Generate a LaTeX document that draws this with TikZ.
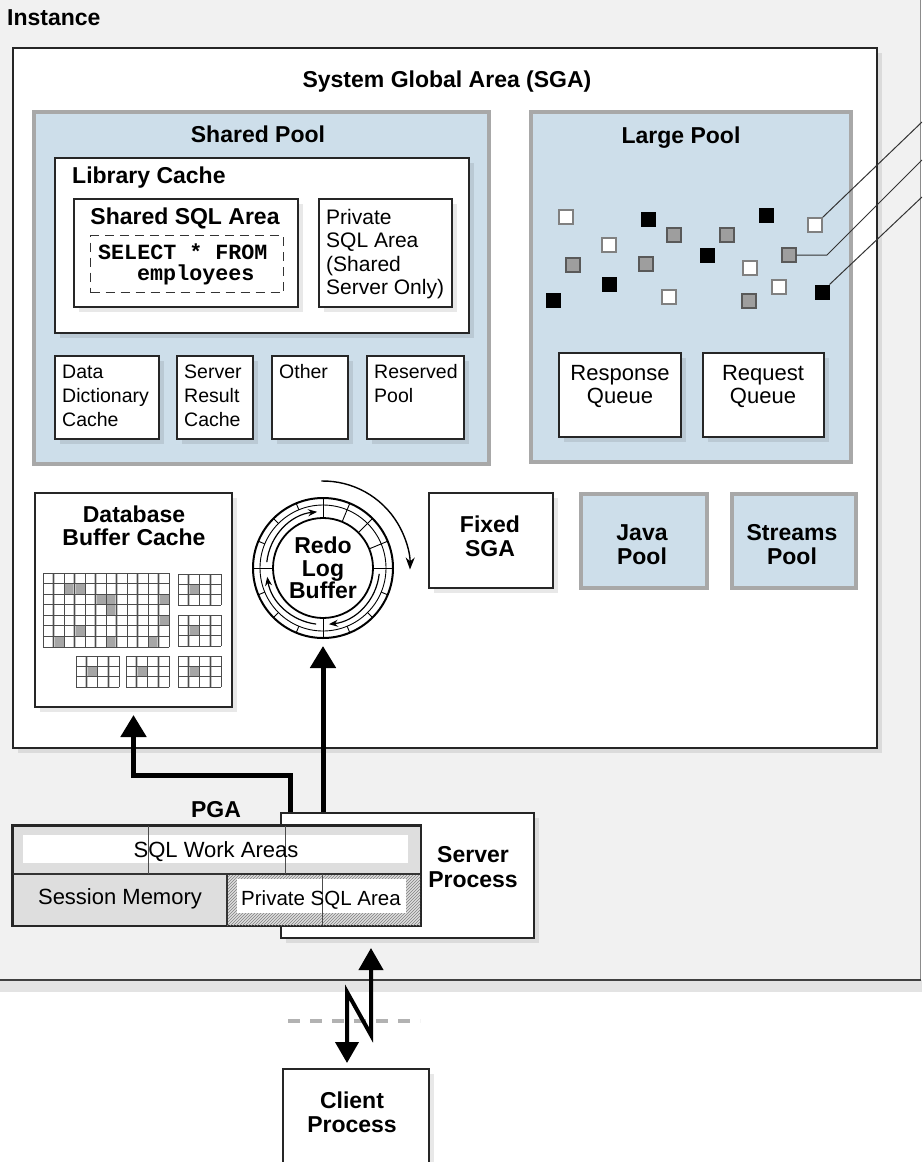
\documentclass[tikz,border=0pt]{standalone}
\usepackage{fontspec}
\setmainfont{Liberation Sans}
\newfontfamily\codefont{Liberation Mono}
\usetikzlibrary{arrows.meta,shadows,patterns,calc}
\definecolor{instbg}{RGB}{241,241,241}
\definecolor{poolblue}{RGB}{205,222,234}
\definecolor{poolline}{RGB}{168,168,168}
\definecolor{pgagray}{RGB}{222,222,222}
\newcommand\BoldT{\fontsize{23}{24}\selectfont\bfseries}
\newcommand\RegT{\fontsize{22}{24}\selectfont}
\newcommand\SmallT{\fontsize{19.5}{23.5}\selectfont}
\newcommand\MidT{\fontsize{21}{23.5}\selectfont}
\newcommand\PrivT{\fontsize{20.5}{23.5}\selectfont}
\newcommand\CodeT{\fontsize{21.7}{21}\selectfont\codefont\bfseries}
\newcommand\cachegrid[6]{%
  \begin{scope}[shift={(#1,-#2)}]
    \foreach \i in {1,3,...,#3} \draw[black!22, line width=3pt] (\i*#5,0) -- (\i*#5,-#4*#6);
    \foreach \i in {0,...,#3} \draw[black!70, line width=0.8pt] (\i*#5,0) -- (\i*#5,-#4*#6);
    \foreach \j in {0,...,#4} \draw[black!70, line width=0.8pt] (0,-\j*#6) -- (#3*#5,-\j*#6);
  \end{scope}}
\newcommand\graycell[6]{% x0 y0 col row cw ch
  \fill[black!35] (#1+#3*#5,-#2-#4*#6) rectangle (#1+#3*#5+#5,-#2-#4*#6-#6);}
\tikzset{
  shadowed/.style={drop shadow={shadow xshift=5pt,shadow yshift=-5pt,fill=black,opacity=0.09}},
  wbox/.style={draw=black!85, line width=2pt, fill=white, inner sep=0pt, anchor=north west, shadowed},
  pool/.style={draw=poolline, line width=4pt, fill=poolblue, inner sep=0pt, anchor=north west},
  txt/.style={inner sep=0pt, anchor=base},
  ltxt/.style={inner sep=0pt, anchor=base west},
  bigarrow/.style={line width=5pt, -{Triangle[length=22pt,width=25pt]}},
  wsq/.style={draw=black!50, line width=1.3pt, fill=white, minimum size=14pt, inner sep=0pt},
  bsq/.style={draw=black, line width=1pt, fill=black, minimum size=14pt, inner sep=0pt},
  gsq/.style={draw=black!65, line width=1.3pt, fill=black!38, minimum size=14pt, inner sep=0pt},
  thinlink/.style={draw=black!80, line width=1pt},
  ringarrow/.style={line width=1.2pt, -{Stealth[length=9pt,width=7pt]}},
}
\begin{document}
\begin{tikzpicture}[x=1pt,y=1pt]
\useasboundingbox (0,0) rectangle (922,-1162);
\clip (0,0) rectangle (922,-1162);
\fill[white] (0,0) rectangle (922,-1162);
% Instance
\fill[black!11] (0,-980) rectangle (922,-992);
\fill[instbg] (-5,5) rectangle (920,-980);
\draw[black!45, line width=1pt] (920,5) -- (920,-980);
\draw[black!75, line width=2.4pt] (-5,-980) -- (921,-980);
\node[ltxt, font=\BoldT] (tinst) at (7,-25) {Instance};
% SGA
\node[wbox, minimum width=864pt, minimum height=700pt] (sga) at (12,-47) {};
\node[txt, font=\BoldT] (tsga) at (447,-87) {System Global Area (SGA)};
% Shared pool
\node[pool, minimum width=455pt, minimum height=352pt] (spool) at (32,-110) {};
\node[txt, font=\BoldT] (tspool) at (258,-142) {Shared Pool};
\node[wbox, minimum width=414pt, minimum height=175pt] (lcache) at (54,-157) {};
\node[ltxt, font=\BoldT] (tlc) at (72,-183) {Library Cache};
\node[wbox, minimum width=224pt, minimum height=108pt] (ssql) at (73,-198) {};
\node[txt, font=\BoldT] (tssql) at (185,-224) {Shared SQL Area};
\node[draw=black!80, line width=1.3pt, dash pattern=on 9pt off 6pt, inner sep=0pt, anchor=north west, minimum width=193pt, minimum height=57pt] (sel) at (90,-235) {};
\node[ltxt, font=\CodeT] (tsel1) at (98,-259) {SELECT * FROM};
\node[ltxt, font=\CodeT] (tsel2) at (137,-280) {employees};
\node[wbox, minimum width=133pt, minimum height=108pt] (psql) at (318,-198) {};
\node[ltxt, font=\MidT] (tps1) at (326,-224) {Private};
\node[ltxt, font=\MidT] (tps2) at (326,-247.5) {SQL Area};
\node[ltxt, font=\MidT] (tps3) at (326,-271) {(Shared};
\node[ltxt, font=\MidT] (tps4) at (326,-294.5) {Server Only)};
\node[wbox, minimum width=104pt, minimum height=83pt] (ddc) at (54,-355) {};
\node[ltxt, font=\SmallT] (tdd1) at (62,-378) {Data};
\node[ltxt, font=\SmallT] (tdd2) at (62,-402) {Dictionary};
\node[ltxt, font=\SmallT] (tdd3) at (62,-426) {Cache};
\node[wbox, minimum width=76pt, minimum height=83pt] (src) at (176,-355) {};
\node[ltxt, font=\SmallT] (tsr1) at (184,-378) {Server};
\node[ltxt, font=\SmallT] (tsr2) at (184,-402) {Result};
\node[ltxt, font=\SmallT] (tsr3) at (184,-426) {Cache};
\node[wbox, minimum width=76pt, minimum height=83pt] (oth) at (271,-355) {};
\node[ltxt, font=\SmallT] (tot) at (279,-378) {Other};
\node[wbox, minimum width=97pt, minimum height=83pt] (rsv) at (366,-355) {};
\node[ltxt, font=\SmallT] (trs1) at (374,-378) {Reserved};
\node[ltxt, font=\SmallT] (trs2) at (374,-402) {Pool};
% Large pool
\node[pool, minimum width=320pt, minimum height=350pt] (lpool) at (529,-110) {};
\node[txt, font=\BoldT] (tlp) at (681,-143) {Large Pool};
\node[wsq] (q1) at (566,-217) {};
\node[bsq] (q2) at (648,-219) {};
\node[gsq] (q3) at (674,-235) {};
\node[wsq] (q4) at (609,-245) {};
\node[gsq] (q5) at (573,-265) {};
\node[gsq] (q6) at (646,-264) {};
\node[bsq] (q7) at (609,-284) {};
\node[bsq] (q8) at (553,-300) {};
\node[wsq] (q9) at (669,-297) {};
\node[bsq] (q10) at (707,-255) {};
\node[gsq] (q11) at (727,-235) {};
\node[bsq] (q12) at (766,-215) {};
\node[wsq] (q13) at (815,-225) {};
\node[gsq] (q14) at (789,-255) {};
\node[wsq] (q15) at (750,-268) {};
\node[wsq] (q16) at (779,-287) {};
\node[gsq] (q17) at (749,-301) {};
\node[bsq] (q18) at (822,-292) {};
\node[wbox, minimum width=122pt, minimum height=84pt] (rspq) at (558,-352) {};
\node[txt, font=\RegT] (trq1) at (620,-380) {Response};
\node[txt, font=\RegT] (trq2) at (620,-403) {Queue};
\node[wbox, minimum width=121pt, minimum height=84pt] (reqq) at (702,-352) {};
\node[txt, font=\RegT] (tqq1) at (763,-380) {Request};
\node[txt, font=\RegT] (tqq2) at (763,-403) {Queue};
% links from squares
\coordinate (e1) at (922,-122);
\coordinate (e2m) at (827,-255);
\coordinate (e2) at (922,-160);
\coordinate (e3) at (922,-197);
\draw[thinlink] (q13.north east) -- (e1);
\draw[thinlink] (q14.east) -- (e2m) -- (e2);
\draw[thinlink] (q18.north east) -- (e3);
% Database buffer cache
\node[wbox, minimum width=197pt, minimum height=214pt] (dbc) at (34,-492) {};
\node[txt, font=\BoldT] (tdb1) at (134,-522) {Database};
\node[txt, font=\BoldT] (tdb2) at (134,-545) {Buffer Cache};
\foreach \c/\r in {2/1,3/1,5/2,6/2,6/3,11/2,11/4,3/5,1/6,6/6,10/6} {\graycell{43}{573}{\c}{\r}{10.5}{10.57}}
\cachegrid{43}{573}{12}{7}{10.5}{10.57}
\foreach \gx/\gy in {178/574,178/615,76/656,126/656,178/656} {
  \graycell{\gx}{\gy}{1}{1}{10.75}{10.33}
  \cachegrid{\gx}{\gy}{4}{3}{10.75}{10.33}
}
% Redo log buffer
\node[circle, draw=black, line width=2pt, fill=white, minimum size=140pt, inner sep=0pt] (redo) at (323,-568) {};
\draw[line width=0.9pt] (redo.center) circle[radius=63pt];
\draw[line width=1.8pt] (redo.center) circle[radius=50pt];
\foreach \a in {0,90,180,270} \draw[line width=1pt] ($(redo.center)+(\a:50)$) -- ($(redo.center)+(\a:70)$);
\foreach \a in {22.5,45,67.5,112.5,135,157.5,202.5,225,247.5,292.5,315,337.5} \draw[line width=0.9pt] ($(redo.center)+(\a:63)$) -- ($(redo.center)+(\a:70)$);
\foreach \a in {22.5,45,67.5} \draw[line width=0.9pt] ($(redo.center)+(\a:50)$) -- ($(redo.center)+(\a:63)$);
\draw[ringarrow] ($(redo.center)+(174:56.5)$) arc[start angle=174, end angle=96, radius=56.5pt];
\draw[ringarrow] ($(redo.center)+(263:56.5)$) arc[start angle=263, end angle=189, radius=56.5pt];
\draw[ringarrow] ($(redo.center)+(-6:56.5)$) arc[start angle=-6, end angle=-84, radius=56.5pt];
\draw[line width=1.4pt, -{Stealth[length=12pt,width=9pt]}] ($(redo.center)+(91:87)$) arc[start angle=91, end angle=-1, radius=87pt];
\node[txt, font=\BoldT] (trd1) at (323,-553) {Redo};
\node[txt, font=\BoldT] (trd2) at (323,-576) {Log};
\node[txt, font=\BoldT] (trd3) at (323,-598) {Buffer};
% Fixed SGA, Java, Streams
\node[wbox, minimum width=124pt, minimum height=95pt] (fsga) at (428,-492) {};
\node[txt, font=\BoldT] (tfs1) at (490,-532) {Fixed};
\node[txt, font=\BoldT] (tfs2) at (490,-556) {SGA};
\node[pool, minimum width=126pt, minimum height=94pt] (java) at (579,-492) {};
\node[txt, font=\BoldT] (tjv1) at (642,-540) {Java};
\node[txt, font=\BoldT] (tjv2) at (642,-564) {Pool};
\node[pool, minimum width=124pt, minimum height=94pt] (strm) at (730,-492) {};
\node[txt, font=\BoldT] (tst1) at (792,-540) {Streams};
\node[txt, font=\BoldT] (tst2) at (792,-564) {Pool};
% Server process and PGA
\node[wbox, minimum width=253pt, minimum height=125pt] (sp) at (280,-812) {};
\node[txt, font=\BoldT] (tsp1) at (473,-862) {Server};
\node[txt, font=\BoldT] (tsp2) at (473,-887) {Process};
\node[draw=black!85, line width=1.5pt, fill=pgagray, inner sep=0pt, anchor=north west, minimum width=408pt, minimum height=100pt] (pga) at (12,-825) {};
\fill[white] (23,-835) rectangle (408,-863);
\fill[pattern=north east lines, pattern color=black!50] (227,-874) rectangle (420,-925);
\fill[white] (237,-879) rectangle (406,-913);
\draw[line width=1.2pt, black!80] (12,-874) -- (420,-874);
\draw[line width=1.2pt, black!80] (227,-874) -- (227,-925);
\draw[line width=0.8pt, black!70] (148,-825) -- (148,-874);
\draw[line width=0.8pt, black!70] (285,-825) -- (285,-874);
\draw[line width=0.8pt, black!70] (322,-874) -- (322,-925);
\draw[draw=black!85, line width=1.5pt] (pga.north west) rectangle (pga.south east);
\node[txt, font=\BoldT] (tpga) at (216,-817) {PGA};
\node[txt, font=\RegT] (tswa) at (216,-857) {SQL Work Areas};
\node[txt, font=\RegT] (tsm) at (120,-904) {Session Memory};
\node[txt, font=\PrivT] (tpsa) at (321,-905) {Private SQL Area};
% thick arrows
\draw[bigarrow] ([xshift=10pt]sp.north west) |- ($(dbc.south)+(0,-67)$) -- ($(dbc.south)+(0,-7)$);
\draw[bigarrow] (sp.north west -| redo.south) -- ($(redo.south)+(0,-7)$);
% client process
\draw[black!30, line width=4pt, dash pattern=on 12pt off 10pt] (288,-1021) -- (420,-1021);
\node[wbox, minimum width=146pt, minimum height=130pt] (cp) at (282,-1068) {};
\node[txt, font=\BoldT] (tcp1) at (352,-1108) {Client};
\node[txt, font=\BoldT] (tcp2) at (352,-1132) {Process};
\coordinate (zA) at (371,-1035);
\coordinate (zB) at (347,-992);
\draw[line width=4pt, line join=miter, {Triangle[length=22pt,width=24pt]}-{Triangle[length=21pt,width=23pt]}] ($(sp.south -| zA)+(0,-9)$) -- (zA) -- (zB) -- ($(cp.north -| zB)+(0,5)$);
\end{tikzpicture}
\end{document}
